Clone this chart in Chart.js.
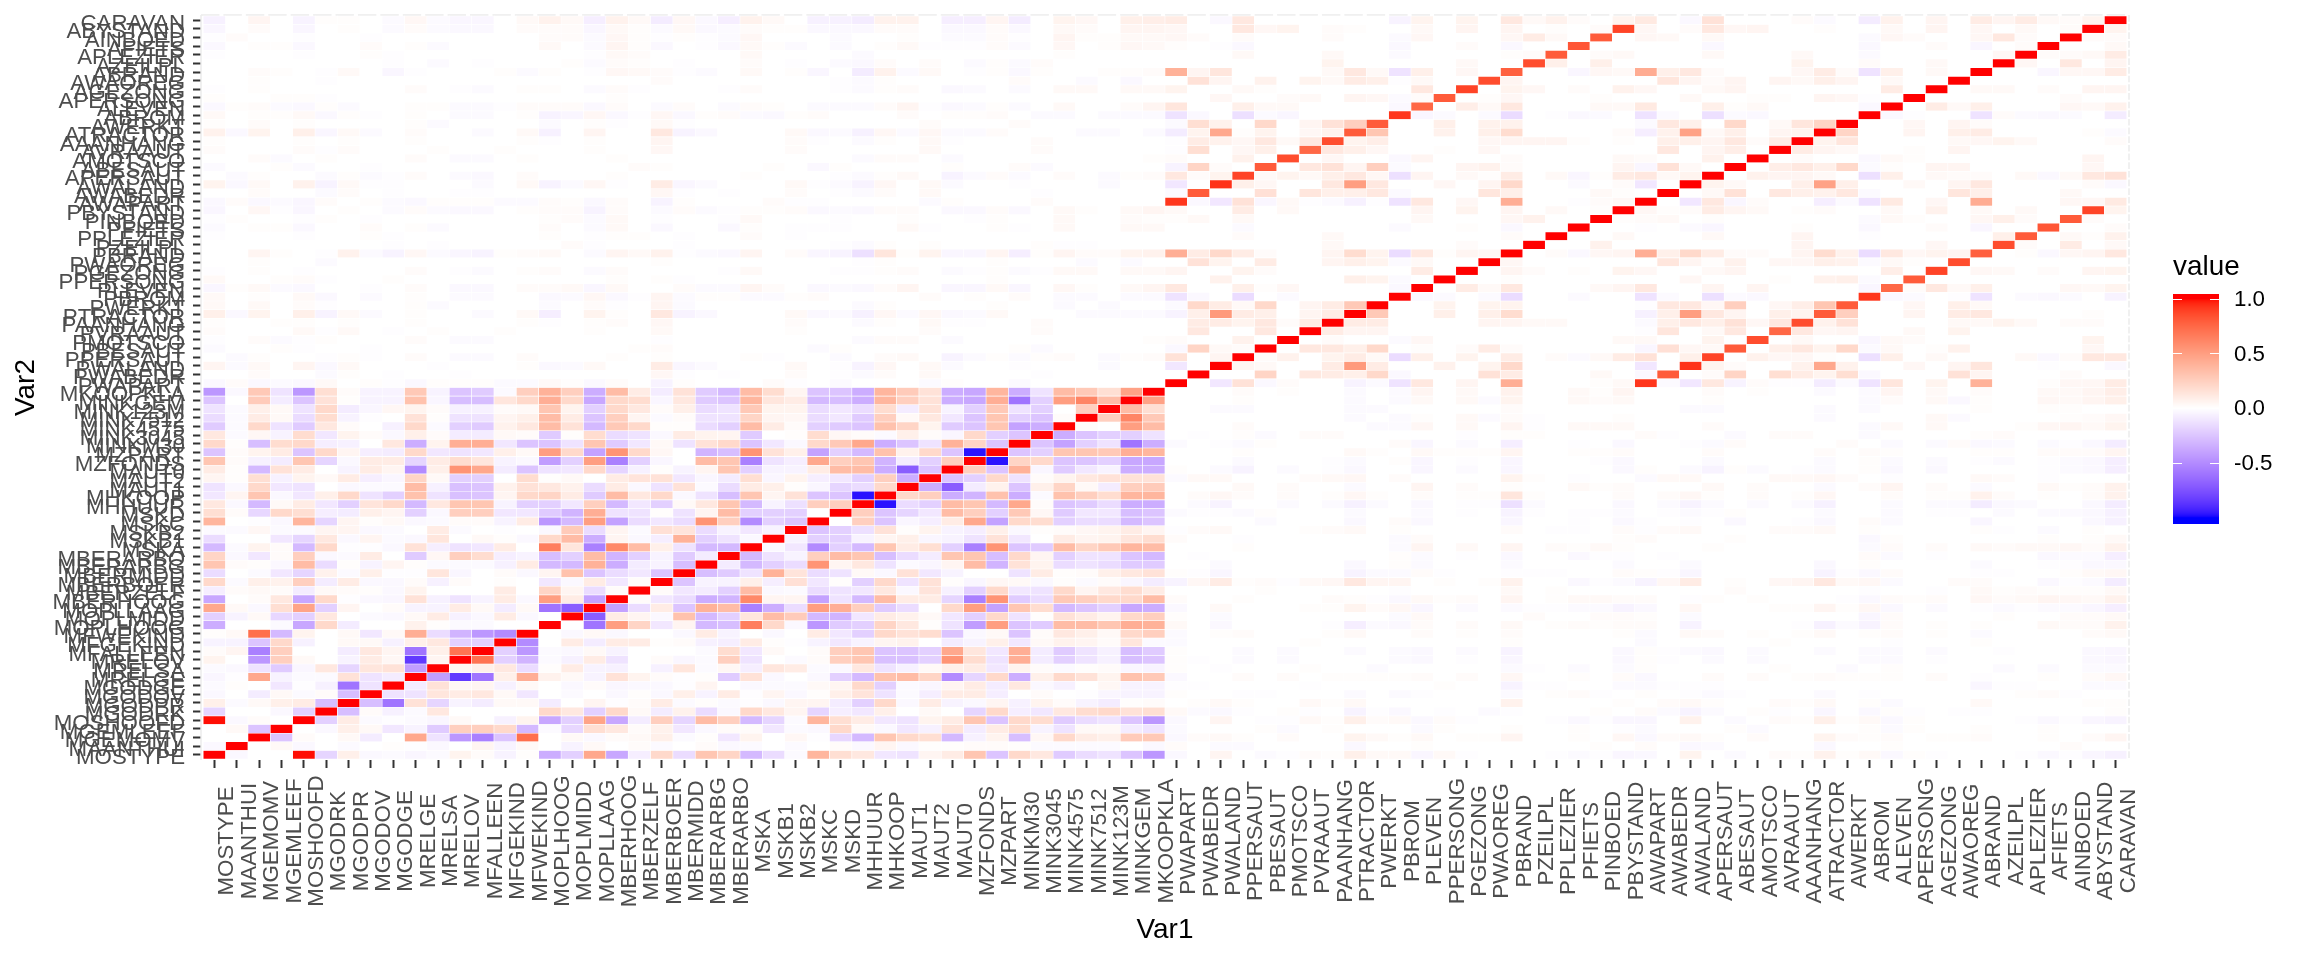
<!DOCTYPE html>
<html>
<head>
<meta charset="utf-8">
<title>Correlation heatmap</title>
<script src="https://cdn.jsdelivr.net/npm/chart.js@4"></script>
<style>
  html, body { margin: 0; padding: 0; background: #fff; }
  canvas { display: block; }
</style>
</head>
<body>
<canvas id="heatmap" width="2304" height="960"></canvas>
<script>
const varNames = ['MOSTYPE','MAANTHUI','MGEMOMV','MGEMLEEF','MOSHOOFD','MGODRK','MGODPR','MGODOV','MGODGE','MRELGE','MRELSA','MRELOV','MFALLEEN','MFGEKIND','MFWEKIND','MOPLHOOG','MOPLMIDD','MOPLLAAG','MBERHOOG','MBERZELF','MBERBOER','MBERMIDD','MBERARBG','MBERARBO','MSKA','MSKB1','MSKB2','MSKC','MSKD','MHHUUR','MHKOOP','MAUT1','MAUT2','MAUT0','MZFONDS','MZPART','MINKM30','MINK3045','MINK4575','MINK7512','MINK123M','MINKGEM','MKOOPKLA','PWAPART','PWABEDR','PWALAND','PPERSAUT','PBESAUT','PMOTSCO','PVRAAUT','PAANHANG','PTRACTOR','PWERKT','PBROM','PLEVEN','PPERSONG','PGEZONG','PWAOREG','PBRAND','PZEILPL','PPLEZIER','PFIETS','PINBOED','PBYSTAND','AWAPART','AWABEDR','AWALAND','APERSAUT','ABESAUT','AMOTSCO','AVRAAUT','AAANHANG','ATRACTOR','AWERKT','ABROM','ALEVEN','APERSONG','AGEZONG','AWAOREG','ABRAND','AZEILPL','APLEZIER','AFIETS','AINBOED','ABYSTAND','CARAVAN'];

// all values below are correlations x100

// lower triangle of the sociodemographic block, rows 2..43
const socioRows = [
[-3],
[0,0],
[0,3,-25],
[99,-3,2,0],
[-18,0,0,-3,-20],
[8,-2,3,8,10,-28],
[-3,0,-8,3,-2,2,-28],
[-2,1,0,-10,-1,-6,-60,-12],
[-4,-1,45,-5,-2,-2,15,-12,-8],
[-2,-3,-12,-22,-4,12,-18,13,15,-42],
[6,0,-45,25,3,0,-5,10,4,-85,5],
[2,5,-55,25,0,0,-8,12,5,-60,8,70],
[-5,-5,-25,20,-6,0,3,3,-6,8,12,-20,-20],
[1,3,72,-30,6,0,3,-10,3,42,-15,-32,-45,-50],
[-35,0,0,-2,-38,20,-8,0,0,7,1,-2,-2,0,0],
[-20,-5,3,-17,-20,12,0,-2,-3,3,10,-6,-3,10,-3,0],
[45,3,-3,17,47,-20,5,0,2,-5,-5,10,3,-8,3,-60,-70],
[-38,0,2,12,-38,20,-1,-3,-4,15,-6,-12,-5,10,-3,50,10,-40],
[-7,2,3,2,-8,3,2,1,-3,6,0,0,0,10,0,22,5,-15,2],
[20,-2,8,7,25,-8,10,-3,-3,2,-6,2,0,1,0,-10,-3,10,-10,2],
[-15,0,-2,-10,-18,7,-2,8,-1,-1,13,-4,0,2,-3,5,32,-25,-15,-10,-25],
[30,2,1,-3,35,-15,1,-5,5,1,-2,-2,-2,-6,10,-30,-30,40,-35,-8,-5,-28],
[22,-3,-10,2,25,-3,-2,10,0,-22,4,25,18,-7,-5,-28,-20,35,-32,-20,-5,-22,-8],
[-30,-2,6,2,-30,20,-1,-1,-3,15,-7,-12,-10,10,0,65,13,-55,60,35,8,-12,-30,-30],
[-15,0,0,-10,-18,12,-3,5,-2,-3,13,0,3,1,-3,20,35,-35,5,-3,-7,40,-20,-12,-3],
[-2,-2,4,-2,-2,5,5,-3,-2,0,10,-2,0,-1,0,-3,27,-15,5,-2,16,14,-15,-5,-10,-5],
[38,0,-1,-3,38,-18,5,1,3,-3,-2,2,2,-5,10,-45,-30,50,-40,-15,-10,-15,55,25,-50,-20,-25],
[17,2,-17,20,17,-7,-8,8,5,-20,-3,25,25,-10,-10,-22,-32,42,-12,-12,1,-12,5,35,-20,-20,-20,0],
[12,-3,-30,3,10,-10,-20,14,20,-30,12,30,30,-5,-20,-20,-10,25,-30,-10,-20,3,12,30,-30,-5,-13,25,25],
[-10,5,30,-3,-10,8,20,-12,-20,32,-12,-27,-25,5,20,22,10,-22,35,12,20,-3,-12,-28,30,5,15,-25,-25,-97],
[-12,-3,20,-10,-12,0,-3,-2,-2,35,-6,-27,-25,7,15,12,7,-15,10,-3,-12,15,-2,-15,10,8,1,-4,-18,-15,20],
[5,1,17,-6,6,3,10,-7,-4,22,3,-20,-20,0,18,1,3,0,10,14,15,-10,-4,-8,17,-4,6,-7,-10,-20,25,-35],
[10,1,-30,15,10,0,-5,10,5,-50,8,55,45,-8,-25,-12,-10,20,-18,-6,1,-5,5,30,-20,-5,-5,10,35,35,-35,-70,-25],
[30,2,-6,-8,30,-18,-3,10,10,-18,10,18,13,-5,-3,-42,-20,50,-55,-20,-4,0,35,30,-55,-12,-7,45,25,30,-32,-8,-20,25],
[-25,2,6,10,-25,20,5,-7,-8,20,-10,-12,-10,8,3,50,20,-40,55,20,4,0,-32,-28,55,15,8,-40,-20,-30,32,7,20,-25,-97],
[20,1,-28,18,20,-7,-6,0,12,-35,6,42,42,-10,-25,-25,-12,30,-22,-10,3,-12,15,20,-25,-10,-3,20,28,45,-35,-25,-12,40,22,-25],
[12,-2,4,-5,18,-10,6,2,-3,8,2,-8,-8,3,2,-22,1,18,-15,-12,-3,10,6,5,-22,0,1,18,4,2,-2,8,2,-4,20,-20,-25],
[-22,-2,20,-12,-22,12,2,0,-6,20,-2,-20,-22,7,12,35,15,-30,28,20,1,1,-15,-20,35,10,2,-20,-22,-25,32,22,6,-22,-25,30,-40,-35],
[-15,-2,10,3,-15,18,-5,-1,0,15,1,-12,-12,5,8,35,10,-25,25,5,-2,2,-12,-12,22,5,4,-15,-10,-22,25,3,12,-10,-25,30,-20,-25,2],
[-12,-2,8,3,-12,20,-8,-4,4,6,2,-6,-6,2,3,30,6,-20,20,12,2,8,-15,-12,28,6,6,-15,-10,-15,18,-8,15,-5,-20,28,-12,-20,0,25],
[-25,0,27,-8,-25,15,1,-5,-5,32,-4,-28,-28,13,20,42,20,-38,20,18,-4,12,-22,-25,38,13,10,-30,-28,-35,38,25,15,-35,-38,42,-60,-20,50,62,35],
[-45,-3,28,-12,-45,17,2,-5,-5,28,-5,-25,-22,-2,25,40,25,-35,35,10,-8,15,-22,-30,35,18,5,-25,-25,-35,38,27,15,-35,-38,38,-35,-12,35,28,17,48]
];

// insurance variables (rows 44..86) against the sociodemographic columns 1..43
const crossRows = [
[-3,2,-3,-2,-3,3,0,1,-1,-3,1,1,1,-2,-2,3,1,-3,2,0,-5,1,0,0,0,2,-1,0,-2,0,0,0,-2,1,0,0,-2,0,0,0,0,0,0],
[0,0,2,0,0,-2,1,0,-1,0,0,-1,0,0,0,0,0,0,0,0,4,-1,0,-1,0,0,2,0,-1,-2,2,0,3,0,0,0,0,-1,0,0,0,0,0],
[5,-2,3,0,5,-3,3,0,0,0,-1,0,0,0,1,-3,-2,3,0,0,10,-4,-2,0,0,0,3,0,-1,-5,4,0,3,-2,0,0,-1,0,0,0,-2,0,0],
[0,-2,1,0,0,-1,1,-1,0,2,0,-2,-2,0,2,0,0,0,1,0,1,0,0,0,1,-1,0,0,-2,0,2,3,0,-5,-2,1,-2,1,2,0,-2,1,2],
[-2,0,0,1,-1,0,0,-1,0,0,0,0,0,0,0,0,0,0,0,1,2,0,0,0,0,0,0,-2,1,0,0,0,0,0,0,0,1,-2,0,0,0,0,0],
[-1,0,2,-2,-1,1,0,0,0,2,0,-2,-2,0,0,0,0,0,0,0,-1,0,0,0,0,0,0,0,0,-2,2,2,0,-2,0,0,0,0,0,0,0,0,1],
[2,0,0,0,3,-1,3,0,-1,0,1,0,0,1,0,0,0,1,0,0,3,0,0,0,0,0,1,0,0,0,0,0,2,0,0,0,0,2,0,0,0,0,0],
[1,0,0,1,1,0,1,0,0,1,0,0,0,0,1,-1,0,1,2,0,4,0,0,0,0,0,2,0,0,-2,1,0,3,-1,-1,0,0,2,0,0,0,0,0],
[8,-3,6,0,8,-5,3,-2,0,1,0,0,-2,0,3,-7,0,6,1,0,12,-5,-3,0,0,0,3,-3,-2,-6,4,-2,4,-3,-2,3,0,0,0,-2,-2,-2,-2],
[3,0,3,0,2,-1,0,0,0,1,-2,0,0,0,0,-2,0,2,-1,0,5,-2,0,0,0,0,0,0,0,-2,1,0,0,0,0,1,0,0,-2,0,-2,0,0],
[3,0,1,0,3,-3,0,-2,0,1,0,-2,-2,0,0,-3,-2,4,-3,-1,5,-2,1,1,-2,-2,1,2,0,0,0,0,2,0,1,0,2,0,-2,-2,0,-2,-2],
[-4,1,3,-2,-3,0,0,-1,0,2,0,-3,-3,0,2,2,3,-4,3,0,0,2,-2,-2,5,2,0,-3,-2,-3,2,5,0,-4,-4,3,-4,0,4,1,0,3,5],
[3,0,0,1,2,-1,0,0,1,0,0,0,0,0,0,0,0,0,1,0,1,-1,0,0,0,0,0,0,0,0,0,0,0,0,0,1,0,0,0,0,0,0,0],
[-1,0,1,0,-1,0,0,0,0,2,0,-1,-2,0,1,2,0,-2,2,0,0,0,0,-1,3,0,0,0,-1,-1,1,2,0,-2,-1,1,-2,-1,3,3,0,3,3],
[0,0,1,0,0,-2,0,0,0,0,0,0,0,0,0,0,0,0,0,0,1,0,0,0,0,0,0,0,0,-1,1,0,0,0,0,1,0,0,0,-2,0,-2,0],
[0,0,5,1,0,-1,7,-2,-5,4,-2,-4,-5,1,2,3,0,-2,5,3,7,-1,-2,-3,5,0,2,-4,-5,-13,13,1,6,-4,-4,5,-7,1,5,2,2,6,7],
[0,0,0,0,0,0,0,0,-1,0,-1,0,0,0,0,0,2,-1,0,0,0,-1,0,0,0,0,0,0,-1,-2,1,0,1,0,0,0,0,1,-1,-1,0,0,0],
[-1,0,0,0,-1,0,0,1,-1,0,0,0,0,0,0,1,0,-1,1,1,0,-1,0,0,2,0,-1,0,0,0,0,0,0,0,0,0,0,0,0,0,0,0,0],
[-2,0,1,1,-3,0,0,2,0,1,-2,0,0,0,0,2,0,-2,3,0,-3,0,0,-3,1,0,-1,-1,-1,0,0,3,-1,0,0,1,-1,0,3,0,0,3,3],
[-1,1,0,0,-1,1,0,-1,0,0,0,0,0,0,0,1,2,-2,3,0,-1,0,0,-1,3,0,0,0,-1,0,0,1,0,0,-1,1,0,0,3,0,0,2,1],
[-4,0,4,-1,-4,0,1,0,-2,2,-2,-3,-3,0,1,2,2,-5,2,0,-2,2,-2,-1,1,1,2,-3,-2,-3,2,2,0,-3,-3,2,-3,0,3,1,0,3,5],
[-3,2,-3,-2,-4,2,0,1,-2,-3,1,1,1,-2,-2,2,1,-3,2,0,-5,1,0,0,0,2,-1,-1,0,0,0,0,-2,1,0,0,0,2,0,0,0,0,0],
[0,0,2,0,0,-2,2,0,-1,0,0,-1,-1,0,0,0,0,0,0,0,4,-1,0,-1,0,0,2,0,-1,-2,2,0,3,0,0,0,0,-1,0,0,0,0,0],
[6,-3,3,0,7,-5,3,-1,-1,0,0,0,-2,0,3,-5,-2,4,-1,0,10,-4,-2,0,0,0,3,-1,-2,-5,4,0,3,-2,0,0,-1,0,0,0,-2,0,0],
[0,-2,1,0,0,-2,1,-2,-1,2,0,-2,-3,0,2,0,0,0,1,0,0,0,0,0,1,0,0,0,-1,-2,1,3,0,-5,-2,2,-2,0,2,0,-2,1,2],
[-2,0,0,1,-2,0,0,-1,0,0,0,0,0,0,0,0,0,0,0,2,1,0,0,0,0,1,0,-3,1,0,0,0,0,1,0,0,2,-2,0,0,0,0,0],
[0,0,2,-2,0,1,0,0,0,2,0,-2,-2,0,1,0,0,0,1,0,0,0,0,0,0,0,0,0,0,-2,2,2,0,-2,0,0,0,0,0,0,0,0,1],
[2,0,0,0,2,-1,2,0,0,0,1,0,0,1,0,0,0,1,0,0,4,0,0,0,0,0,2,0,0,0,0,0,3,0,0,0,0,2,0,0,0,0,0],
[1,0,0,0,1,0,1,0,0,1,0,0,0,0,1,-1,0,1,0,0,5,0,0,0,0,0,2,-1,0,-2,1,0,3,-1,0,0,0,2,0,0,0,0,0],
[7,-3,6,0,8,-4,3,-2,0,2,0,0,-2,0,3,-6,0,5,0,0,12,-5,-3,0,0,0,3,-3,-2,-6,4,-2,4,-2,-2,2,0,0,0,-2,-2,0,-2],
[1,0,2,0,1,0,0,0,0,1,-2,0,0,0,0,-2,0,1,-1,0,3,-1,0,0,0,0,0,0,0,0,0,0,2,0,0,0,2,0,0,0,0,0,0],
[3,0,1,1,3,-3,1,-1,0,1,0,-2,-2,0,1,-5,-4,4,-3,-1,4,-3,1,2,-2,-3,1,2,0,0,0,2,0,1,1,2,0,-2,-2,0,-2,-2,-2],
[-3,1,2,-2,-3,1,-2,0,0,1,1,-2,-2,-1,2,2,2,-3,2,0,-2,2,0,-2,2,1,0,-2,-2,-2,2,5,-1,-3,-2,1,-2,0,3,0,0,2,5],
[1,0,0,1,1,-1,0,0,0,0,0,0,0,0,0,0,0,0,1,0,0,0,0,0,0,0,0,0,0,0,0,0,0,0,0,0,0,0,0,0,0,0,0],
[-1,0,1,0,0,0,0,0,0,2,0,-1,-2,0,1,1,0,-2,2,-1,0,0,0,-1,2,0,0,0,-1,-2,1,2,0,-3,-2,0,-2,0,3,3,0,3,3],
[0,0,1,0,0,-1,0,0,0,0,0,0,0,0,0,0,0,0,0,0,2,0,0,0,0,0,0,0,-1,-2,1,0,0,0,0,0,2,0,0,-2,0,-3,0],
[0,0,2,1,0,-1,3,0,-4,-1,0,0,0,1,-2,1,0,-1,4,3,2,-1,-2,0,3,0,1,-4,0,-8,7,-2,3,0,-1,1,-3,1,0,0,1,1,2],
[0,0,0,0,0,0,0,0,-1,0,-2,0,-1,0,0,0,1,-2,2,1,0,-1,0,0,2,0,-1,0,-2,-3,2,0,2,0,-2,1,-2,2,0,0,0,0,0],
[-1,0,0,0,-1,0,0,1,-1,0,0,0,0,0,0,0,0,-1,3,2,0,0,0,0,3,0,0,0,0,-2,0,0,0,0,0,0,0,0,1,0,0,0,0],
[-3,0,1,1,-3,0,0,2,0,1,-2,0,0,0,0,3,0,-2,5,1,-3,0,-1,-3,3,1,-2,0,-2,0,1,3,-1,-1,-1,2,-2,0,4,0,1,4,3],
[-1,2,0,0,-1,0,0,-1,0,0,0,0,0,0,0,2,2,-2,4,1,-1,1,-1,-2,4,0,0,0,-2,0,0,1,0,-2,-2,2,-1,0,5,1,1,3,3],
[-4,0,2,0,-4,0,1,0,-2,2,-2,-3,-3,0,2,2,2,-4,3,1,-2,3,-3,-2,2,1,1,-3,-3,-3,2,2,0,-3,-3,2,-3,0,3,2,0,5,5],
[-6,0,5,0,-5,1,1,0,-2,4,-2,-4,-4,0,3,7,3,-7,7,3,-8,4,-3,-7,7,3,0,-6,-6,-8,7,7,0,-7,-7,5,-8,0,6,4,0,8,9]
];

// P columns against P columns (symmetric pairs, 1-based variable numbers)
const ppPairs = [
[44,46,-10],[44,47,15],[44,48,-3],[44,49,2],[44,52,-5],[44,53,-2],[44,54,-12],[44,55,12],[44,57,5],[44,59,42],[44,63,1],[44,64,3],
[45,48,22],[45,50,12],[45,51,10],[45,52,8],[45,53,20],[45,54,-3],[45,58,15],[45,59,10],[45,63,3],
[46,47,5],[46,48,3],[46,51,10],[46,52,52],[46,53,10],[46,56,7],[46,58,6],[46,59,20],
[47,48,2],[47,49,7],[47,51,6],[47,52,10],[47,53,3],[47,54,-15],[47,55,8],[47,57,6],[47,59,10],[47,61,2],[47,62,-2],[47,63,3],[47,64,10],
[48,50,12],[48,51,12],[48,52,8],[48,53,20],[48,55,1],[48,57,2],[48,58,10],[48,59,2],
[49,51,2],[49,54,-2],[49,55,4],[49,64,3],
[50,51,10],[50,52,5],[50,53,5],
[51,52,10],[51,53,10],[51,58,5],[51,59,5],[51,60,3],[51,61,3],
[52,53,28],[52,56,8],[52,58,8],[52,59,18],
[53,56,6],[53,58,6],[53,59,6],
[54,55,-3],[54,56,-2],[54,58,-2],[54,59,-15],[54,62,-2],
[55,57,10],[55,58,3],[55,59,12],[55,63,3],[55,64,5],
[56,59,1],[57,59,5],[57,60,2],[57,62,1],[57,64,6],[58,59,4],
[59,61,2],[59,62,-3],[59,63,4],[59,64,5],[60,63,7],[61,64,3],[63,64,1]
];

// A columns against A columns
const aaPairs = [
[65,67,-10],[65,68,12],[65,69,-4],[65,70,2],[65,73,-7],[65,74,-2],[65,75,-12],[65,76,11],[65,78,4],[65,80,43],[65,84,4],[65,85,4],
[66,68,3],[66,69,15],[66,71,12],[66,72,8],[66,73,7],[66,74,12],[66,75,-2],[66,79,13],[66,80,8],[66,84,3],
[67,68,6],[67,69,3],[67,72,8],[67,73,48],[67,74,8],[67,77,3],[67,79,5],[67,80,12],[67,85,2],
[68,70,7],[68,71,5],[68,72,5],[68,73,3],[68,75,-13],[68,76,8],[68,78,3],[68,79,2],[68,80,2],[68,82,3],[68,83,-3],[68,84,3],[68,85,12],
[69,71,9],[69,72,12],[69,73,8],[69,74,20],[69,75,-2],[69,76,1],[69,78,5],[69,79,5],[69,85,4],
[70,72,2],[70,75,-3],[70,76,3],[70,77,1],[70,85,5],
[71,72,10],[71,73,5],[71,74,3],[71,77,1],[71,79,5],
[72,73,6],[72,74,13],[72,79,3],[72,80,4],[72,81,6],[72,82,3],
[73,74,22],[73,77,5],[73,79,8],[73,80,10],[73,85,1],
[74,77,4],[74,79,5],[74,80,2],
[75,76,-3],[75,77,-1],[75,80,-12],[75,81,2],[75,82,-2],[75,83,-3],[75,84,-2],
[76,78,10],[76,79,3],[76,80,8],[76,84,4],[76,85,3],
[77,84,2],[78,80,3],[78,81,3],[78,83,2],[78,85,5],
[80,83,-4],[80,84,4],[80,85,4],[81,82,4],[81,84,12],[82,83,2],[82,84,2],[82,85,3],[84,85,2]
];

// P rows against A columns
const paPairs = [
[44,65,92],[44,66,-2],[44,67,-10],[44,68,12],[44,69,-5],[44,70,2],[44,71,-1],[44,72,-1],[44,73,-8],[44,74,-2],[44,75,-12],[44,76,13],[44,78,6],[44,80,40],[44,83,1],[44,84,4],[44,85,4],
[45,65,-3],[45,66,80],[45,68,2],[45,69,22],[45,71,17],[45,72,10],[45,73,6],[45,74,17],[45,75,-3],[45,79,15],[45,80,5],[45,84,2],
[46,65,-10],[46,67,93],[46,68,6],[46,69,2],[46,72,7],[46,73,45],[46,74,7],[46,77,4],[46,79,5],[46,80,13],[46,83,-1],
[47,65,15],[47,67,8],[47,68,88],[47,70,7],[47,71,4],[47,72,4],[47,73,1],[47,75,-13],[47,76,8],[47,78,3],[47,82,3],[47,83,-3],[47,84,2],[47,85,12],
[48,65,-4],[48,66,16],[48,67,4],[48,68,3],[48,69,80],[48,71,8],[48,72,12],[48,73,6],[48,74,20],[48,75,-2],[48,76,3],[48,78,1],[48,79,7],[48,85,4],
[49,65,3],[49,68,6],[49,70,85],[49,72,3],[49,75,-4],[49,76,3],[49,77,2],[49,85,6],
[50,65,-1],[50,66,13],[50,68,3],[50,69,12],[50,71,75],[50,72,12],[50,73,4],[50,74,5],[50,77,3],[50,79,6],
[51,65,-2],[51,66,8],[51,67,12],[51,68,8],[51,69,15],[51,70,4],[51,71,12],[51,72,85],[51,73,7],[51,74,15],[51,79,3],[51,80,3],[51,81,6],[51,82,3],[51,84,2],[51,85,2],
[52,65,-6],[52,66,8],[52,67,50],[52,68,12],[52,69,5],[52,71,8],[52,72,6],[52,73,80],[52,74,25],[52,77,5],[52,79,10],[52,80,12],[52,85,1],
[53,65,-1],[53,66,12],[53,67,12],[53,68,4],[53,69,25],[53,71,4],[53,72,9],[53,73,30],[53,74,80],[53,77,4],[53,79,8],[53,80,3],
[54,65,-12],[54,66,-2],[54,68,-13],[54,69,-2],[54,70,-3],[54,75,92],[54,76,-3],[54,77,-2],[54,79,-1],[54,80,-12],[54,82,-2],[54,83,-3],[54,84,-2],
[55,65,12],[55,68,5],[55,70,5],[55,75,-4],[55,76,75],[55,77,2],[55,78,12],[55,79,3],[55,80,8],[55,84,4],[55,85,3],
[56,67,4],[56,71,1],[56,73,7],[56,74,8],[56,75,-2],[56,77,80],
[57,65,4],[57,68,3],[57,69,5],[57,76,9],[57,78,88],[57,80,4],[57,81,3],[57,83,2],[57,85,5],
[58,66,13],[58,67,5],[58,68,1],[58,69,7],[58,71,4],[58,72,4],[58,73,8],[58,74,7],[58,75,-2],[58,76,3],[58,77,1],[58,79,85],
[59,65,42],[59,66,8],[59,67,20],[59,68,10],[59,69,2],[59,70,2],[59,72,5],[59,73,18],[59,74,7],[59,75,-15],[59,76,12],[59,77,4],[59,78,6],[59,79,5],[59,80,78],[59,82,1],[59,83,-3],[59,84,4],[59,85,5],
[60,72,5],[60,78,4],[60,81,85],[60,82,2],[60,84,10],
[61,68,3],[61,72,5],[61,75,-1],[61,81,8],[61,82,80],[61,84,3],[61,85,1],
[62,65,-1],[62,67,-2],[62,68,-4],[62,72,1],[62,75,-3],[62,78,2],[62,80,-4],[62,83,82],
[63,65,2],[63,66,3],[63,68,1],[63,75,-2],[63,76,3],[63,77,1],[63,80,4],[63,81,8],[63,82,2],[63,84,80],[63,85,2],
[64,65,4],[64,66,1],[64,67,2],[64,68,10],[64,69,5],[64,70,3],[64,72,1],[64,73,2],[64,76,3],[64,78,7],[64,80,3],[64,82,3],[64,85,88]
];

// CARAVAN (86) against the P and A columns
const caravanPairs = [
[86,44,10],[86,46,-3],[86,47,12],[86,54,-5],[86,55,6],[86,57,6],[86,59,12],[86,60,3],[86,61,7],[86,62,2],[86,64,6],
[86,65,11],[86,67,-3],[86,68,15],[86,72,2],[86,73,-2],[86,75,-8],[86,76,7],[86,78,5],[86,80,10],[86,81,5],[86,82,10],[86,83,3],[86,84,2],[86,85,6]
];

const legendTicks = [1.0, 0.5, 0.0, -0.5];

// square symmetric matrix, diagonal = 1
const matrix = varNames.map((_, r) => varNames.map((_, c) => (r === c ? 1 : 0)));
const setCell = (i, j, v) => { matrix[i - 1][j - 1] = v / 100; matrix[j - 1][i - 1] = v / 100; };
socioRows.forEach((row, k) => row.forEach((v, c) => setCell(k + 2, c + 1, v)));
crossRows.forEach((row, k) => row.forEach((v, c) => setCell(k + 44, c + 1, v)));
[...ppPairs, ...aaPairs, ...paPairs, ...caravanPairs].forEach(([i, j, v]) => setCell(i, j, v));

// low/mid/high gradient, interpolated in Lab like scale_fill_gradient2
const LAB_WHITE = [100, 0, 0];
const LAB_RED = [53.24, 80.09, 67.2];
const LAB_BLUE = [32.3, 79.19, -107.86];

function labToHex(L, a, b) {
    const fy = (L + 16) / 116;
    const fx = fy + a / 500;
    const fz = fy - b / 200;
    const f = t => (t > 6 / 29 ? t * t * t : 3 * (6 / 29) * (6 / 29) * (t - 4 / 29));
    const X = 0.95047 * f(fx), Y = f(fy), Z = 1.08883 * f(fz);
    const rgb = [
        3.2406 * X - 1.5372 * Y - 0.4986 * Z,
        -0.9689 * X + 1.8758 * Y + 0.0415 * Z,
        0.0557 * X - 0.204 * Y + 1.057 * Z
    ];
    return 'rgb(' + rgb.map(u => {
        const c = Math.min(1, Math.max(0, u));
        const s = c <= 0.0031308 ? 12.92 * c : 1.055 * Math.pow(c, 1 / 2.4) - 0.055;
        return Math.round(s * 255);
    }).join(',') + ')';
}

function cellColor(v) {
    const t = Math.min(1, Math.abs(v));
    const end = v >= 0 ? LAB_RED : LAB_BLUE;
    return labToHex(
        LAB_WHITE[0] + (end[0] - LAB_WHITE[0]) * t,
        LAB_WHITE[1] + (end[1] - LAB_WHITE[1]) * t,
        LAB_WHITE[2] + (end[2] - LAB_WHITE[2]) * t
    );
}

const LABEL_SIZE = 22.3;
const TITLE_SIZE = 27.9;
const LABEL_FONT = LABEL_SIZE + 'px "Liberation Sans"';
const TITLE_FONT = TITLE_SIZE + 'px "Liberation Sans"';

// ticks sit on the whole numbers, one per variable
const ticksForVars = scale => { scale.ticks = varNames.map((_, i) => ({ value: i + 1 })); };

// fixed axis size, and no room reserved for labels overhanging the panel
const fixAxis = (scale, size) => {
    if (scale.isHorizontal()) scale.height = size; else scale.width = size;
    scale.paddingTop = scale.paddingBottom = scale.paddingLeft = scale.paddingRight = 0;
};

// ggplot centres the rotated labels, Chart.js can't, so they are drawn here
const xLabelsPlugin = {
    id: 'xLabels',
    afterDraw(chart) {
        const { ctx, scales: { x } } = chart;
        ctx.save();
        ctx.font = LABEL_FONT;
        ctx.fillStyle = '#4D4D4D';
        ctx.textAlign = 'center';
        ctx.textBaseline = 'alphabetic';
        varNames.forEach((name, i) => {
            ctx.save();
            ctx.translate(x.getPixelForValue(i + 1) + 19, 841);
            ctx.rotate(-Math.PI / 2);
            ctx.fillText(name, 0, 0);
            ctx.restore();
        });
        ctx.restore();
    }
};

const panelEdgePlugin = {
    id: 'panelEdge',
    beforeDatasetsDraw(chart) {
        const { ctx, chartArea: a } = chart;
        const cellW = (a.right - a.left) / varNames.length;
        const cellH = (a.bottom - a.top) / varNames.length;
        ctx.save();
        ctx.strokeStyle = '#EBEBEB';
        ctx.lineWidth = 1.5;
        ctx.beginPath();
        ctx.moveTo(a.left, a.top);
        ctx.lineTo(a.left, a.bottom);
        ctx.stroke();
        ctx.setLineDash([cellW - 4, 4]);
        ctx.beginPath();
        ctx.moveTo(a.left, a.top);
        ctx.lineTo(a.right, a.top);
        ctx.stroke();
        ctx.setLineDash([cellH - 2, 2]);
        ctx.beginPath();
        ctx.moveTo(a.right, a.top);
        ctx.lineTo(a.right, a.bottom);
        ctx.stroke();
        ctx.restore();
    }
};

const colorbarPlugin = {
    id: 'colorbar',
    afterDraw(chart) {
        const ctx = chart.ctx;
        const left = 2173, width = 46, top = 294, bottom = 524;
        const yFor = v => 408.2 - v * 109.5;
        ctx.save();
        for (let y = top; y < bottom; y++) {
            ctx.fillStyle = cellColor((408.2 - (y + 0.5)) / 109.5);
            ctx.fillRect(left, y, width, 1);
        }
        ctx.strokeStyle = '#fff';
        ctx.lineWidth = 1;
        ctx.fillStyle = '#000';
        ctx.font = LABEL_FONT;
        ctx.textAlign = 'left';
        ctx.textBaseline = 'middle';
        legendTicks.forEach(v => {
            const y = Math.round(yFor(v)) + 0.5;
            ctx.beginPath();
            ctx.moveTo(left, y);
            ctx.lineTo(left + 9, y);
            ctx.moveTo(left + width - 9, y);
            ctx.lineTo(left + width, y);
            ctx.stroke();
            ctx.fillText(v.toFixed(1), 2234, yFor(v) + 1);
        });
        ctx.font = TITLE_FONT;
        ctx.textBaseline = 'alphabetic';
        ctx.fillText('value', 2173, 275);
        ctx.restore();
    }
};

new Chart(document.getElementById('heatmap'), {
    type: 'bar',
    data: {
        datasets: varNames.map((name, r) => ({
            label: name,
            data: varNames.map((_, c) => ({ x: c + 1, y: [r + 0.5, r + 1.5] })),
            backgroundColor: matrix[r].map(cellColor),
            borderColor: '#fff',
            borderWidth: 0.6,
            borderSkipped: false,
            grouped: false,
            barPercentage: 1,
            categoryPercentage: 1
        }))
    },
    plugins: [panelEdgePlugin, xLabelsPlugin, colorbarPlugin],
    options: {
        responsive: false,
        devicePixelRatio: 1,
        animation: false,
        events: [],
        layout: { padding: { left: 0, top: 15, right: 175, bottom: 0 } },
        plugins: { legend: { display: false }, tooltip: { enabled: false } },
        scales: {
            x: {
                type: 'linear',
                min: 0.4,
                max: 86.6,
                offset: false,
                afterFit(s) { fixAxis(s, 200); },
                afterBuildTicks: ticksForVars,
                border: { display: false },
                grid: { offset: false, drawOnChartArea: false, drawTicks: true, tickLength: 8, tickWidth: 2, tickColor: '#333333' },
                ticks: { display: false },
                title: { display: true, text: 'Var1', color: '#000', font: { family: 'Liberation Sans', size: TITLE_SIZE }, padding: { top: 0, bottom: 13 } }
            },
            y: {
                type: 'linear',
                min: 0.4,
                max: 86.6,
                afterFit(s) { fixAxis(s, 201); },
                afterBuildTicks: ticksForVars,
                border: { display: false },
                grid: { drawOnChartArea: false, drawTicks: true, tickLength: 8, tickWidth: 2, tickColor: '#333333' },
                ticks: {
                    autoSkip: false,
                    padding: 8,
                    labelOffset: 3.5,
                    color: '#4D4D4D',
                    font: { family: 'Liberation Sans', size: LABEL_SIZE },
                    callback: v => varNames[v - 1]
                },
                title: { display: true, text: 'Var2', color: '#000', font: { family: 'Liberation Sans', size: TITLE_SIZE }, padding: { top: 10, bottom: 0 } }
            }
        }
    }
});
</script>
</body>
</html>
